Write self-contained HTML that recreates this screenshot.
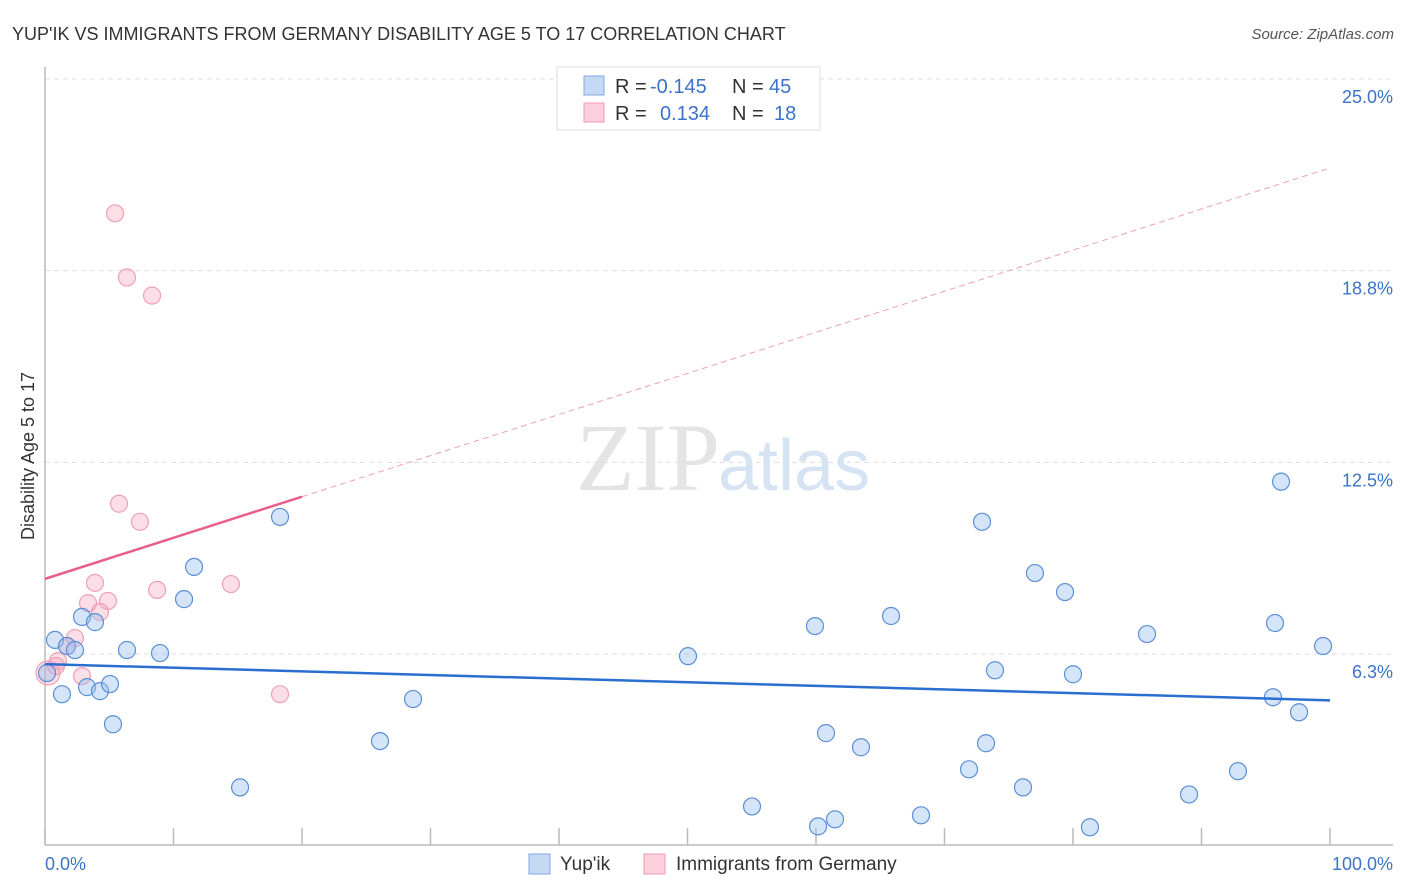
<!DOCTYPE html>
<html><head><meta charset="utf-8"><style>
body{margin:0;background:#fff;font-family:"Liberation Sans",sans-serif;}
svg{display:block}
</style></head><body>
<svg id="chart" width="1406" height="892" xmlns="http://www.w3.org/2000/svg">
<text x="12" y="40" font-size="18" fill="#333">YUP'IK VS IMMIGRANTS FROM GERMANY DISABILITY AGE 5 TO 17 CORRELATION CHART</text>
<text x="1394" y="39" font-size="15" fill="#555" font-style="italic" text-anchor="end">Source: ZipAtlas.com</text>
<g id="grid"></g>
<text x="720" y="490" font-size="96" fill="#e4e4e4" font-family="Liberation Serif,serif" text-anchor="end">ZIP</text>
<text x="718" y="490" font-size="72" fill="#d6e3f3">atlas</text>
<line x1="45" y1="67" x2="45" y2="845" stroke="#bbb" stroke-width="1.5"/>
<line x1="45" y1="845" x2="1393" y2="845" stroke="#bbb" stroke-width="1.5"/>
<text transform="translate(34,456) rotate(-90)" font-size="18" fill="#333" text-anchor="middle">Disability Age 5 to 17</text>
<text x="45" y="870" font-size="18" fill="#3b73c8">0.0%</text>
<text x="1393" y="870" font-size="18" fill="#3b73c8" text-anchor="end">100.0%</text>
<g id="marks"></g>
<g>
<rect x="557" y="67" width="263" height="63" fill="#fff" stroke="#ddd"/>
<rect x="584" y="76" width="20" height="19" fill="#c5d9f5" stroke="#7fa8e0"/>
<rect x="584" y="103" width="20" height="19" fill="#fbd0dc" stroke="#f09ab3"/>
<text x="615" y="93" font-size="20" fill="#333">R = <tspan x="650" fill="#3b73c8">-0.145</tspan><tspan x="732">N = </tspan><tspan x="769" fill="#3b73c8">45</tspan></text>
<text x="615" y="120" font-size="20" fill="#333">R = <tspan x="660" fill="#3b73c8">0.134</tspan><tspan x="732">N = </tspan><tspan x="774" fill="#3b73c8">18</tspan></text>
</g>
<g>
<rect x="529" y="854" width="21" height="20" fill="#c5d9f5" stroke="#7fa8e0"/>
<text x="560" y="870" font-size="19" fill="#333">Yup'ik</text>
<rect x="644" y="854" width="21" height="20" fill="#fbd0dc" stroke="#f09ab3"/>
<text x="676" y="870" font-size="19" fill="#333">Immigrants from Germany</text>
</g>
</svg>
<script>
const yTicks=[6.25,12.5,18.75,25];
const yTickLabels=["6.3%","12.5%","18.8%","25.0%"];
const xTicks=[0,10,20,30,40,50,60,70,80,90,100];
const blueX=[0.78,1.32,1.71,2.33,2.88,3.27,3.89,4.28,5.06,5.29,6.38,8.95,10.82,11.60,15.18,18.29,26.07,28.64,50.04,55.02,59.92,60.16,60.78,61.48,63.50,65.84,68.17,71.91,72.92,73.23,73.93,76.11,77.04,79.38,80.00,81.32,85.76,89.03,92.84,95.56,95.72,96.19,97.59,99.46,0.16];
const blueY=[6.71,4.94,6.51,6.38,7.46,5.17,7.29,5.04,5.27,3.96,6.38,6.28,8.04,9.09,1.90,10.72,3.41,4.78,6.18,1.28,7.16,0.63,3.67,0.86,3.21,7.49,0.99,2.49,10.56,3.34,5.72,1.90,8.89,8.27,5.59,0.60,6.90,1.67,2.43,4.84,7.26,11.87,4.35,6.51,5.63];
const pinkX=[0.23,0.86,1.01,1.71,2.33,2.88,3.35,3.89,4.28,4.90,5.45,5.76,6.38,7.39,8.33,8.72,14.47,18.29];
const pinkY=[5.63,5.86,6.02,6.51,6.77,5.53,7.91,8.57,7.62,7.98,20.62,11.15,18.53,10.56,17.94,8.34,8.53,4.94];
const blueTrend=[5.92,4.74];
const pinkTrend=[8.70,22.10];
const pinkSolidEnd=20;
const NS="http://www.w3.org/2000/svg";
const xs=v=>45+v*12.85;
const ys=v=>79+(25-v)*30.667;
function mk(tag,attrs,parent){const e=document.createElementNS(NS,tag);for(const k in attrs)e.setAttribute(k,attrs[k]);parent.appendChild(e);return e;}
const grid=document.getElementById('grid');
yTicks.forEach((t,i)=>{
  const l=mk('line',{x1:45,x2:1393,y1:ys(t),y2:ys(t),stroke:'#ddd','stroke-dasharray':'5,4'},grid);
  
  
  const tx=mk('text',{x:1393,y:ys(t)+24,'font-size':18,fill:'#3b73c8','text-anchor':'end'},grid);
  tx.textContent=yTickLabels[i];
  
  
});
xTicks.forEach(t=>{
  const l=mk('line',{x1:xs(t),x2:xs(t),y1:828,y2:845,stroke:'#bbb','stroke-width':1.5},grid);
  
  
});
const m=document.getElementById('marks');
pinkX.forEach((x,i)=>{
  const c=mk('circle',{cx:xs(x),cy:ys(pinkY[i]),r:i===0?12:8.5,fill:'rgba(245,160,185,0.35)',stroke:'#eea0b6','stroke-width':1.2},m);
  
  
});
blueX.forEach((x,i)=>{
  const c=mk('circle',{cx:xs(x),cy:ys(blueY[i]),r:8.5,fill:'rgba(150,190,240,0.4)',stroke:'#5b8fd6','stroke-width':1.2},m);
  
  
});
const pAt=x=>pinkTrend[0]+(pinkTrend[1]-pinkTrend[0])*x/100;
const pd=mk('line',{x1:xs(pinkSolidEnd),y1:ys(pAt(pinkSolidEnd)),x2:xs(100),y2:ys(pinkTrend[1]),stroke:'#eea0b6','stroke-width':1,'stroke-dasharray':'6,4'},m);


const ps=mk('line',{x1:xs(0),y1:ys(pinkTrend[0]),x2:xs(pinkSolidEnd),y2:ys(pAt(pinkSolidEnd)),stroke:'#e8608a','stroke-width':2.5},m);


const bl=mk('line',{x1:xs(0),y1:ys(blueTrend[0]),x2:xs(100),y2:ys(blueTrend[1]),stroke:'#2a6fd0','stroke-width':2.5},m);


</script>
</body></html>
